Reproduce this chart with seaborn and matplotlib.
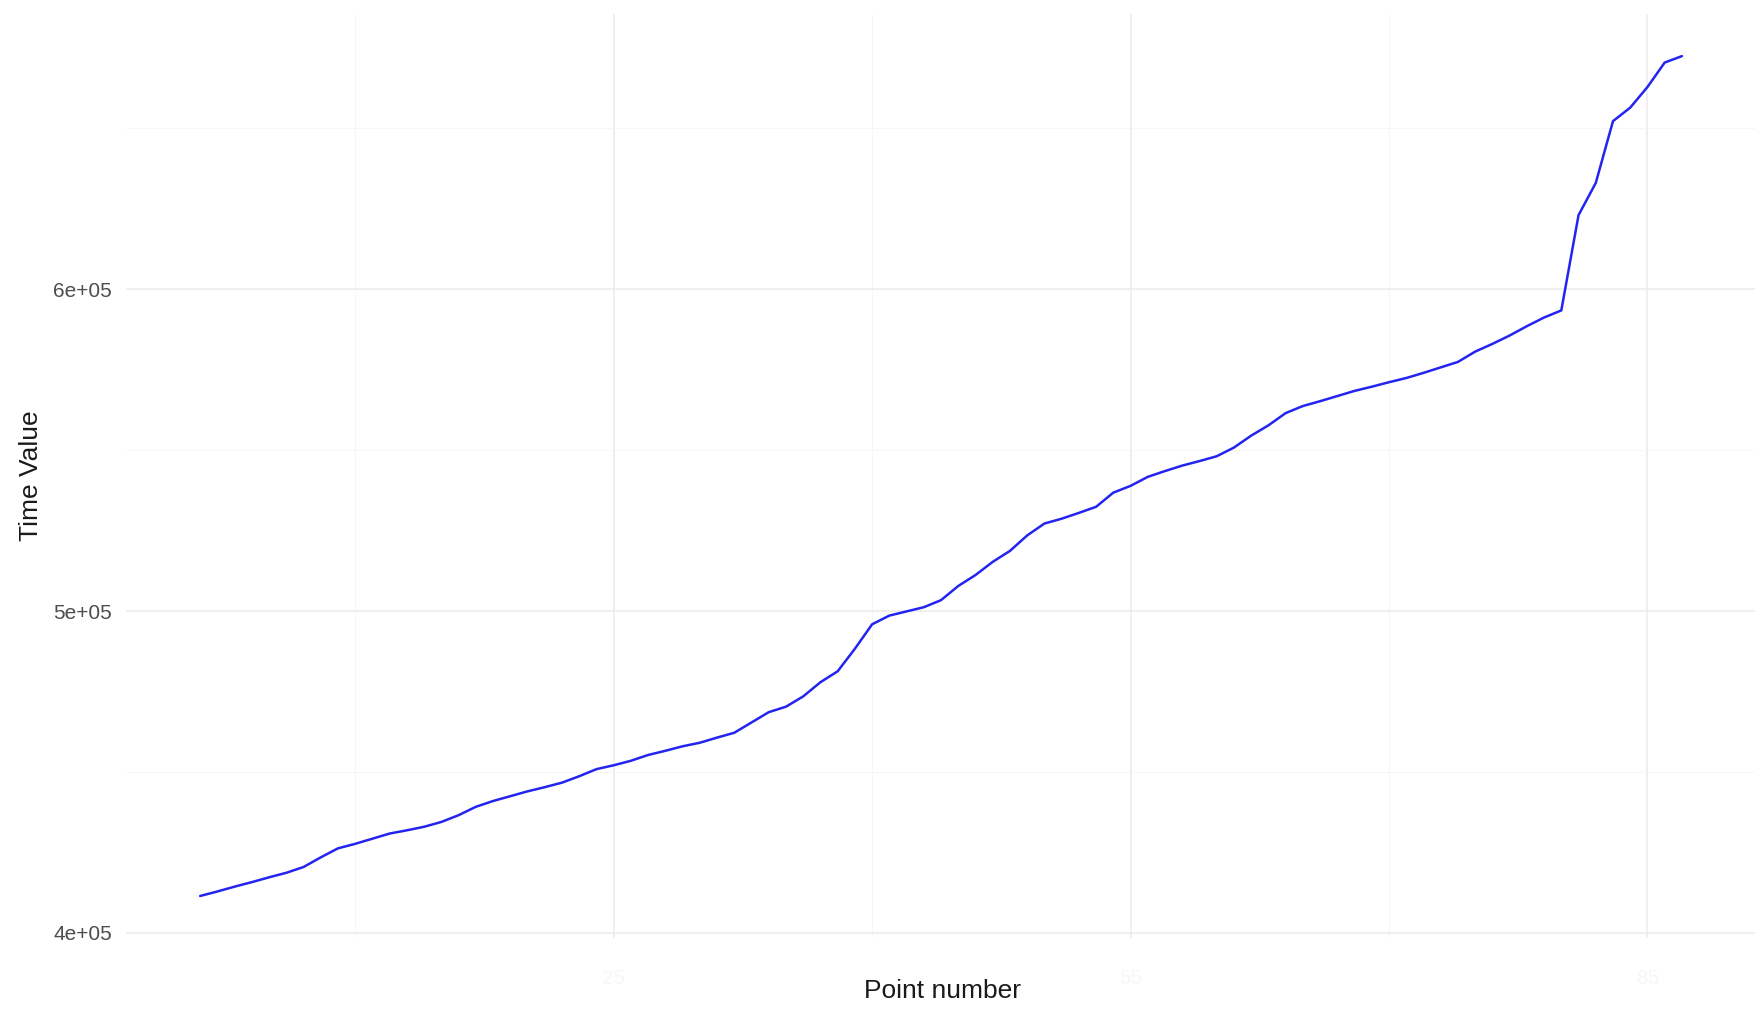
import numpy as np
import pandas as pd
import matplotlib.pyplot as plt
import seaborn as sns
from matplotlib.ticker import FixedLocator, FuncFormatter

sns.set_theme(style="white")
plt.rcParams["font.family"] = ["Liberation Sans", "DejaVu Sans"]

_TICK_FONT_SIZE = 15
_AXIS_FONT_SIZE = 19

point_number = list(range(1, 88))
time_value = [
    411500, 412900, 414400, 415800, 417300, 418700, 420500, 423500, 426300, 427700,
    429300, 430900, 431900, 433000, 434500, 436600, 439200, 441000, 442500, 444000,
    445300, 446700, 448700, 450900, 452100, 453500, 455300, 456600, 458000, 459100,
    460700, 462200, 465400, 468600, 470300, 473500, 477900, 481300, 488300, 495900,
    498600, 499900, 501200, 503400, 507800, 511200, 515300, 518700, 523500, 527200,
    528700, 530500, 532400, 536800, 538900, 541700, 543500, 545200, 546600, 548100,
    550800, 554500, 557700, 561500, 563700, 565200, 566800, 568400, 569700, 571100,
    572400, 574000, 575700, 577400, 580600, 583000, 585600, 588500, 591200, 593400,
    623000, 633000, 652200, 656400, 662800, 670400, 672400,
]

x_major = [25, 55, 85]
x_minor = [10, 40, 70]
y_major = [400000, 500000, 600000]
y_minor = [450000, 550000, 650000]

df = pd.DataFrame({"Point number": point_number, "Time Value": time_value})

fig = plt.figure(figsize=(17.56, 10.09), dpi=100)
ax = fig.add_axes([0.0718, 0.0704, 0.9282, 0.9156])

sns.lineplot(
    data=df,
    x="Point number",
    y="Time Value",
    color="#2424f0",
    linewidth=1.8,
    estimator=None,
    errorbar=None,
    ax=ax,
)

ax.margins(x=0.05, y=0.05)

ax.xaxis.set_major_locator(FixedLocator(x_major))
ax.xaxis.set_minor_locator(FixedLocator(x_minor))
ax.yaxis.set_major_locator(FixedLocator(y_major))
ax.yaxis.set_minor_locator(FixedLocator(y_minor))
ax.yaxis.set_major_formatter(FuncFormatter(lambda v, _: f"{v:.0e}"))

ax.grid(which="major", color="#ebebeb", linewidth=1.1)
ax.grid(which="minor", color="#f5f5f5", linewidth=0.6)
ax.set_axisbelow(True)
sns.despine(ax=ax, left=True, right=True, top=True, bottom=True)

ax.tick_params(axis="both", which="both", length=0)
ax.tick_params(axis="y", labelsize=_TICK_FONT_SIZE, labelcolor="#4d4d4d", pad=10)
ax.tick_params(axis="x", labelsize=_TICK_FONT_SIZE, labelcolor="#f7f7f7", pad=22)

ax.set_xlabel("Point number", fontsize=_AXIS_FONT_SIZE, color="#1a1a1a")
ax.set_ylabel("Time Value", fontsize=_AXIS_FONT_SIZE, color="#1a1a1a")
ax.xaxis.set_label_coords(0.5006, -0.044)
ax.yaxis.set_label_coords(-0.051, 0.5)
ax.xaxis.label.set_verticalalignment("top")

fig.savefig("out.png", dpi=100)
plt.close(fig)
